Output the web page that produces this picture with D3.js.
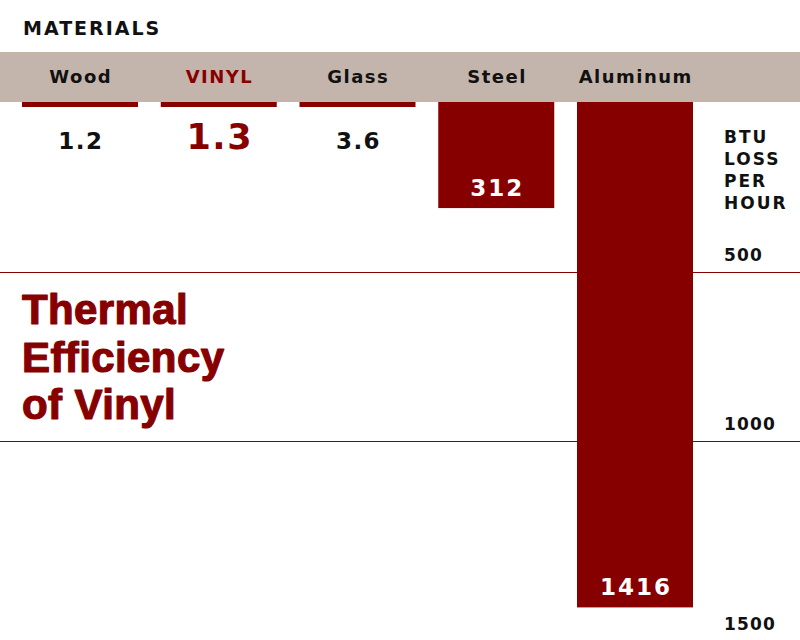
<!DOCTYPE html>
<html><head><meta charset="utf-8">
<script src="https://cdn.jsdelivr.net/npm/d3@7"></script>
<style>
html,body{margin:0;padding:0;background:#fff;}
svg{display:block;}
text{font-family:"DejaVu Sans",sans-serif;font-weight:bold;}
</style></head>
<body>
<svg id="chart" width="800" height="640"></svg>
<script>
const categories = ["Wood", "VINYL", "Glass", "Steel", "Aluminum"];
const values = [1.2, 1.3, 3.6, 312, 1416];
const valueLabels = ["1.2", "1.3", "3.6", "312", "1416"];
const highlight = "VINYL";
const tickValues = [500, 1000, 1500];
const unitLines = ["BTU", "LOSS", "PER", "HOUR"];
const titleLines = ["Thermal", "Efficiency", "of Vinyl"];

const RED = "#870000";
const BAND = "#c4b5ac";
const svg = d3.select("#chart");

const top0 = 102;
const x = d3.scaleBand().domain(categories).range([22, 693]).paddingInner(0.164).paddingOuter(0);
const y = d3.scaleLinear().domain([0, 500, 1000, 1500]).range([top0, 272, 441, 641]);

// gridlines
svg.append("g").selectAll("line").data(tickValues).join("line")
  .attr("x1", 0).attr("x2", 800)
  .attr("y1", d => y(d) + 0.5).attr("y2", d => y(d) + 0.5)
  .attr("stroke", RED).attr("stroke-width", 1);

// tick labels
svg.append("g").selectAll("text").data(tickValues).join("text")
  .attr("x", 724).attr("y", d => y(d) - 11)
  .attr("font-size", 17).attr("letter-spacing", 1.2)
  .attr("fill", "#111").text(d => d);

// header band
svg.append("rect").attr("x", 0).attr("y", 52).attr("width", 800).attr("height", top0 - 52).attr("fill", BAND);

svg.append("text").attr("x", 23).attr("y", 35).attr("font-size", 19).attr("letter-spacing", 2)
  .attr("fill", "#111").text("MATERIALS");

// category labels
svg.append("g").selectAll("text").data(categories).join("text")
  .attr("x", d => x(d) + x.bandwidth() / 2 + 0.75).attr("y", 83)
  .attr("text-anchor", "middle").attr("font-size", 18).attr("letter-spacing", 1.5)
  .attr("fill", d => d === highlight ? RED : "#111").text(d => d);

// bars
const data = categories.map((c, i) => ({c, v: values[i], label: valueLabels[i]}));
const minH = 5;
const barH = d => Math.max(y(d.v) - y(0), minH);
svg.append("g").selectAll("rect").data(data).join("rect")
  .attr("x", d => x(d.c)).attr("y", y(0))
  .attr("width", x.bandwidth()).attr("height", d => barH(d))
  .attr("fill", RED);

// value labels
svg.append("g").selectAll("text").data(data).join("text")
  .attr("x", d => x(d.c) + x.bandwidth() / 2 + 1)
  .attr("y", d => barH(d) > 40 ? y(0) + barH(d) - 12 : 149)
  .attr("text-anchor", "middle")
  .attr("font-size", d => d.c === highlight ? 35 : 23)
  .attr("letter-spacing", d => barH(d) > 40 ? 2 : 1.5)
  .attr("fill", d => barH(d) > 40 ? "#fff" : (d.c === highlight ? RED : "#111"))
  .text(d => d.label);

// unit label
svg.append("g").selectAll("text").data(unitLines).join("text")
  .attr("x", 724).attr("y", (d, i) => 143 + i * 22)
  .attr("font-size", 17).attr("letter-spacing", 2)
  .attr("fill", "#111").text(d => d);

// title
svg.append("g").selectAll("text").data(titleLines).join("text")
  .attr("x", 22).attr("y", (d, i) => 324 + i * 47.5)
  .style("font-family", "'Liberation Sans', Arial, sans-serif").style("font-weight", 700)
  .attr("font-size", 42).attr("letter-spacing", 0.4).attr("fill", RED)
  .attr("stroke", RED).attr("stroke-width", 1.2).attr("stroke-linejoin", "round")
  .text(d => d);
</script>
</body></html>
